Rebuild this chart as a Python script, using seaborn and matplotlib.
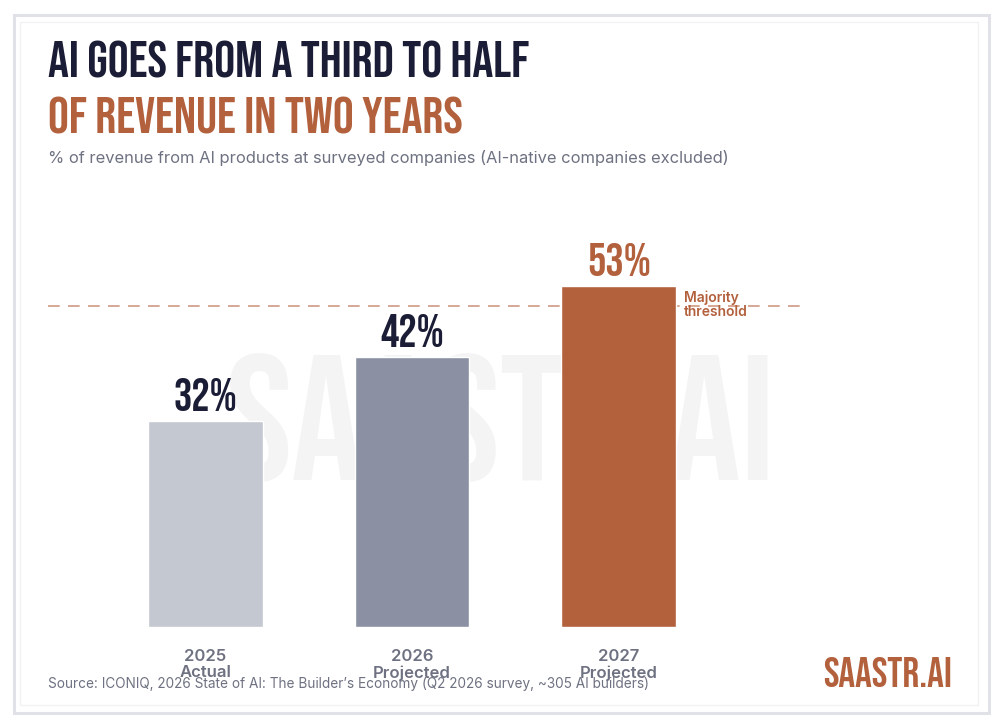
import matplotlib
matplotlib.use("Agg")
import matplotlib.pyplot as plt
from matplotlib.patches import Rectangle
import seaborn as sns
import pandas as pd

# data
years = ["2025", "2026", "2027"]
stages = ["Actual", "Projected", "Projected"]
share = [32, 42, 53]
threshold = 50

bar_colors = ["#c4c8d0", "#8b91a2", "#b3603d"]
label_colors = ["#1b1c35", "#1b1c35", "#b3603d"]
rust = "#b3603d"
gray_text = "#6e7181"

display_font = ["Bebas Neue", "DejaVu Sans"]
body_font = ["Inter", "DejaVu Sans"]

sns.set_theme(style="white")
plt.rcParams["font.family"] = body_font

W, H = 1000, 723
fig = plt.figure(figsize=(W / 100, H / 100), dpi=100)
fig.patch.set_facecolor("white")

def fx(x):
    return x / W

def fy(y):
    return 1 - y / H

# card border
fig.patches.append(Rectangle((fx(14), fy(713)), fx(989) - fx(14), fy(15) - fy(713),
                             transform=fig.transFigure, fill=False,
                             edgecolor="#e1e2e8", linewidth=2.2, zorder=-2))
fig.patches.append(Rectangle((fx(20), fy(705)), fx(978) - fx(20), fy(22) - fy(705),
                             transform=fig.transFigure, fill=False,
                             edgecolor="#f2f2f5", linewidth=1, zorder=-2))

# watermark, behind the bars
fig.text(fx(500), fy(480), "SAASTR.AI", ha="center", va="baseline", fontsize=128,
         color="#f4f4f5", family=display_font, zorder=-1)

# axes: baseline at y=627 px, 6.43 px per percentage point
px_per = 6.43
ymax = 60
ax_left, ax_right = 48, 805
ax_bottom = 627
ax_top = ax_bottom - ymax * px_per
ax = fig.add_axes([fx(ax_left), fy(ax_bottom), fx(ax_right) - fx(ax_left),
                   fy(ax_top) - fy(ax_bottom)])
ax.set_facecolor("none")

df = pd.DataFrame({"year": years, "share": share})
sns.barplot(data=df, x="year", y="share", hue="year", palette=bar_colors,
            width=0.556, legend=False, ax=ax, saturation=1, zorder=2)

ax.set_xlim(-0.761, 2.901)
ax.set_ylim(0, ymax)
ax.axhline(threshold, color="#cf9a83", linestyle=(0, (7, 5)), linewidth=1.2, zorder=1)
ax.text(2.317, 48.4, "Majority\nthreshold", color=rust, fontsize=10,
        fontweight="semibold", va="baseline", ha="left", linespacing=0.95, zorder=3)

for i, v in enumerate(share):
    ax.annotate(f"{v}%", (i, v), xytext=(0, 7.2), textcoords="offset points",
                ha="center", va="baseline", fontsize=33,
                color=label_colors[i], family=display_font, zorder=4)

ax.set_xticks(range(len(years)))
ax.set_xticklabels([f"{y}\n{s}" for y, s in zip(years, stages)],
                   fontsize=12, fontweight="semibold",
                   color=gray_text, linespacing=1.1)
ax.tick_params(axis="x", length=0, pad=16)
ax.set_yticks([])
ax.set_xlabel("")
ax.set_ylabel("")
sns.despine(ax=ax, left=True, bottom=True)

# titles
fig.text(fx(48), fy(77), "AI GOES FROM A THIRD TO HALF", fontsize=37.5,
         color="#1b1c35", family=display_font, va="baseline")
fig.text(fx(48), fy(133), "OF REVENUE IN TWO YEARS", fontsize=37.5,
         color=rust, family=display_font, va="baseline")
fig.text(fx(48), fy(163), "% of revenue from AI products at surveyed companies (AI-native companies excluded)",
         fontsize=11.9, color=gray_text, va="baseline")

fig.text(fx(48), fy(688), "Source: ICONIQ, 2026 State of AI: The Builder\u2019s Economy (Q2 2026 survey, ~305 AI builders)",
         fontsize=9.8, color=gray_text, va="baseline")
fig.text(fx(952), fy(687), "SAASTR.AI", fontsize=30, color=rust,
         family=display_font, ha="right", va="baseline")

fig.savefig("out.png", dpi=100)
